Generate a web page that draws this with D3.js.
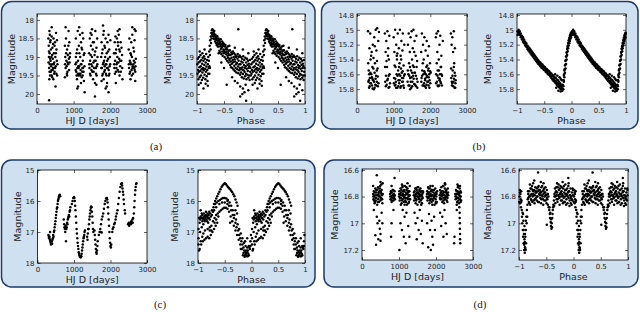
<!DOCTYPE html>
<html>
<head>
<meta charset="utf-8">
<script src="https://cdn.jsdelivr.net/npm/d3@7"></script>
<style>
  body { margin: 0; background: #fff; }
  svg { display: block; font-family: "DejaVu Sans", sans-serif; }
</style>
</head>
<body>
<svg id="chart" width="640" height="312"></svg>
<script>
// tick labels
const hjdTicks = [0, 1000, 2000, 3000];
const phaseTicks = [-1, -0.5, 0, 0.5, 1];
const magTicksA = [18, 18.5, 19, 19.5, 20];
const magTicksB = [14.8, 15, 15.2, 15.4, 15.6, 15.8];
const magTicksC = [15, 16, 17, 18];
const magTicksD = [16.6, 16.8, 17, 17.2];
const magRangeA = [17.84, 20.27];
const magRangeB = [14.787, 16.0];
const magRangeC = [15, 18];
const magRangeD = [16.593, 17.275];
const panelLabels = ["(a)", "(b)", "(c)", "(d)"];

// (a) light curve: [HJD, magnitude]
const aHjd = [
  [310,18.5],[320,18.7],[325,19.0],[330,19.3],[335,19.6],[340,18.3],[345,18.9],[350,19.2],[355,19.5],[360,18.6],
  [370,19.1],[375,19.4],[380,18.8],[390,19.0],[395,19.35],[400,18.45],[410,19.2],[415,19.55],[420,18.75],[430,19.05],
  [440,19.3],[450,18.5],[460,18.9],[470,19.15],[480,19.4],[490,18.6],[500,19.0],[510,19.25],[520,18.35],[530,18.8],
  [540,19.1],[550,19.5],[505,19.8],[330,20.17],[400,18.2],[350,18.4],[445,19.6],
  [315,19.15],[328,18.85],[342,19.4],[358,19.05],[368,18.55],[385,19.25],[398,19.5],[412,18.95],[428,19.35],[438,18.65],
  [455,19.2],[468,19.45],[478,18.7],[495,19.3],[515,18.9],[528,19.45],[545,18.55],[558,19.2],
  [760,18.7],[770,19.0],[780,19.3],[790,18.5],[800,19.1],[810,19.25],[820,18.8],[830,19.4],[840,18.95],[850,19.2],
  [860,18.3],[870,19.05],[880,18.6],[890,19.15],[780,18.2],[900,18.9],[760,19.55],[820,19.5],
  [765,19.2],[795,18.9],[815,19.45],[835,19.15],[855,18.7],[875,19.35],[895,19.0],
  [1050,19.2],[1060,18.5],[1070,19.4],[1080,18.9],[1090,19.6],[1100,19.3],[1110,18.3],[1120,19.1],[1130,19.5],[1140,18.7],
  [1150,19.25],[1160,19.45],[1170,18.4],[1180,19.0],[1190,19.35],[1200,18.6],[1210,19.2],[1220,19.55],[1230,18.8],[1240,19.3],
  [1250,19.1],[1260,18.5],[1270,19.4],[1280,19.65],[1290,18.9],[1150,18.2],[1100,19.85],[1120,19.8],[1300,19.95],[1200,19.7],
  [1240,18.35],[1060,19.0],[1080,19.5],
  [1055,19.35],[1075,19.15],[1095,18.8],[1115,19.45],[1135,19.3],[1155,18.9],[1175,19.5],[1195,19.2],[1215,18.75],[1235,19.4],
  [1255,19.3],[1275,18.95],[1295,19.25],[1125,19.25],[1185,19.45],[1245,19.5],
  [1420,18.9],[1430,19.3],[1440,18.5],[1450,19.1],[1460,19.5],[1470,18.7],[1480,19.2],[1490,18.4],[1500,19.0],[1510,19.4],
  [1520,18.8],[1530,19.6],[1540,19.15],[1550,18.6],[1560,19.3],[1570,18.95],[1580,19.7],[1590,18.3],[1600,19.1],[1610,19.45],
  [1620,18.75],[1630,19.25],[1640,18.5],[1650,19.0],[1580,20.07],[1500,18.25],[1620,19.75],[1460,18.35],
  [1425,19.2],[1445,19.45],[1465,18.95],[1485,19.35],[1505,19.25],[1525,18.6],[1545,19.4],[1565,19.1],[1585,18.85],[1605,19.3],
  [1625,19.5],[1645,19.2],
  [1750,19.0],[1760,18.6],[1770,19.3],[1780,19.5],[1790,18.8],[1800,19.2],[1810,18.4],[1820,19.6],[1830,19.1],[1840,18.7],
  [1850,19.35],[1860,19.0],[1870,18.5],[1880,19.45],[1890,19.2],[1900,18.9],[1910,19.7],[1920,18.6],[1930,19.3],[1940,19.05],
  [1950,18.4],[1960,19.5],[1970,18.8],[1980,19.25],[1990,19.0],[2000,18.55],[1800,18.15],[1870,19.85],[1950,19.95],[1900,19.8],
  [1820,18.3],[1760,19.65],
  [1755,19.3],[1775,18.9],[1795,19.45],[1815,19.15],[1835,19.4],[1855,18.75],[1875,19.2],[1895,19.5],[1915,19.1],[1935,18.85],
  [1955,19.35],[1975,19.45],[1995,19.2],[1845,19.25],[1905,19.3],
  [2100,18.9],[2110,19.3],[2120,18.6],[2130,19.1],[2140,18.45],[2150,19.4],[2160,18.8],[2170,19.2],[2180,18.5],[2190,19.0],
  [2200,19.35],[2210,18.7],[2220,19.15],[2230,18.4],[2240,19.05],[2250,19.5],[2260,18.85],[2270,19.25],[2280,18.6],[2300,19.1],
  [2320,18.95],[2200,18.3],[2150,19.7],[2250,18.25],[2330,19.6],
  [2105,19.2],[2125,19.45],[2145,18.9],[2165,19.3],[2185,19.15],[2205,18.6],[2225,19.4],[2245,18.8],[2265,19.1],[2285,19.4],
  [2305,18.75],[2325,19.3],
  [2500,18.8],[2510,19.3],[2520,18.5],[2530,19.1],[2540,19.4],[2550,18.9],[2560,19.2],[2570,18.6],[2580,19.35],[2590,19.0],
  [2600,18.4],[2610,19.25],[2620,19.45],[2630,18.75],[2640,19.1],[2650,19.3],[2660,18.55],[2670,19.15],[2680,19.4],[2690,18.3],
  [2600,18.2],[2660,18.25],[2550,19.6],[2680,19.65],
  [2505,19.2],[2525,19.45],[2545,19.15],[2565,18.95],[2585,19.5],[2605,19.3],[2625,19.2],[2645,18.85],[2665,19.35],[2685,19.25],
  [2695,19.05]
];

// (a) folded curve, one cycle: [phase, magnitude]
const aPhase = [
  [-0.995,19.2],[-0.99,19.45],[-0.985,19.05],[-0.98,19.35],[-0.975,19.6],[-0.97,19.15],[-0.965,19.4],[-0.96,19.0],[-0.955,19.28],[-0.95,19.55],
  [-0.945,19.12],[-0.94,19.38],[-0.935,18.95],[-0.93,19.25],[-0.925,19.5],[-0.92,19.08],[-0.915,19.33],[-0.91,19.62],[-0.905,19.18],[-0.90,19.42],
  [-0.895,19.02],[-0.89,19.3],[-0.885,19.56],[-0.88,19.1],[-0.875,19.36],[-0.87,18.98],[-0.865,19.22],[-0.86,19.48],[-0.855,19.05],[-0.85,19.32],
  [-0.845,19.6],[-0.84,19.15],[-0.835,19.4],[-0.83,18.92],[-0.825,19.26],[-0.82,19.52],[-0.815,19.08],[-0.81,19.35],[-0.805,19.65],[-0.80,19.2],
  [-0.795,19.45],[-0.79,19.0],[-0.785,19.3],
  [-0.97,19.75],[-0.93,19.7],[-0.88,19.85],[-0.84,19.72],[-0.8,19.78],[-0.95,18.85],[-0.9,18.9],[-0.86,18.8],
  [-0.78,19.1],[-0.775,18.85],[-0.77,19.25],[-0.765,18.7],[-0.76,18.95],[-0.755,18.55],[-0.75,18.8],[-0.745,18.45],[-0.74,18.62],[-0.735,18.35],
  [-0.73,18.5],[-0.725,18.28],[-0.72,18.4],[-0.715,18.25],[-0.77,19.45],[-0.76,19.3],
  [-0.71,18.36],[-0.705,18.27],[-0.70,18.44],[-0.695,18.33],[-0.69,18.5],[-0.685,18.38],[-0.68,18.3],[-0.675,18.52],[-0.67,18.43],[-0.665,18.58],
  [-0.66,18.4],[-0.655,18.48],[-0.65,18.62],[-0.645,18.45],[-0.64,18.55],[-0.635,18.68],[-0.63,18.5],[-0.625,18.44],[-0.62,18.62],[-0.615,18.72],
  [-0.61,18.56],[-0.605,18.65],[-0.60,18.5],
  [-0.595,18.72],[-0.59,18.55],[-0.585,18.83],[-0.58,18.64],[-0.575,18.6],[-0.57,18.88],[-0.565,18.7],[-0.56,18.52],[-0.555,18.78],[-0.55,18.92],
  [-0.545,18.66],[-0.54,18.74],[-0.535,18.58],[-0.53,18.85],[-0.525,18.97],[-0.52,18.7],[-0.515,18.62],[-0.51,18.8],[-0.505,18.9],[-0.50,18.66],
  [-0.495,18.84],[-0.49,19.0],[-0.485,18.72],[-0.48,18.88],[-0.475,18.68],[-0.47,18.79],[-0.465,19.05],[-0.46,18.93],[-0.455,18.75],[-0.45,18.86],
  [-0.445,19.1],[-0.44,18.8],[-0.435,18.97],[-0.43,18.72],[-0.425,19.02],[-0.42,18.9],[-0.415,19.15],[-0.41,18.83],[-0.405,18.95],[-0.40,19.08],
  [-0.395,19.05],[-0.39,18.82],[-0.385,19.22],[-0.38,18.95],[-0.375,19.12],[-0.37,19.28],[-0.365,18.88],[-0.36,19.02],[-0.355,19.18],[-0.35,18.92],
  [-0.345,19.3],[-0.34,19.08],[-0.335,18.85],[-0.33,19.14],[-0.325,19.34],[-0.32,19.0],[-0.315,18.9],[-0.31,19.24],[-0.305,19.06],[-0.30,19.38],
  [-0.295,19.12],[-0.29,18.94],[-0.285,19.3],[-0.28,19.0],[-0.275,19.2],[-0.27,19.42],[-0.265,18.98],[-0.26,19.16],[-0.255,19.33],[-0.25,19.05],
  [-0.245,18.92],[-0.24,19.26],[-0.235,19.44],[-0.23,19.1],[-0.225,19.0],[-0.22,19.36],[-0.215,19.2],[-0.21,18.96],[-0.205,19.3],[-0.20,19.48],
  [-0.195,19.2],[-0.19,19.0],[-0.185,19.42],[-0.18,19.12],[-0.175,19.33],[-0.17,19.55],[-0.165,19.05],[-0.16,19.28],[-0.155,19.15],[-0.15,19.46],
  [-0.145,18.98],[-0.14,19.36],[-0.135,19.58],[-0.13,19.22],[-0.125,19.08],[-0.12,19.4],[-0.115,19.3],[-0.11,19.52],[-0.105,19.02],[-0.10,19.25],
  [-0.095,19.45],[-0.09,19.15],[-0.085,19.6],[-0.08,19.32],[-0.075,19.05],[-0.07,19.48],[-0.065,19.22],[-0.06,19.38],[-0.055,19.1],[-0.05,19.56],
  [-0.045,19.3],[-0.04,19.18],[-0.035,19.5],[-0.03,19.25],[-0.025,19.62],[-0.02,19.08],[-0.015,19.4],[-0.01,19.3],[-0.005,19.5],
  [-0.5,19.3],[-0.45,19.75],[-0.35,19.55],[-0.3,19.65],[-0.25,19.7],[-0.2,19.8],[-0.15,19.85],[-0.1,19.75],[-0.05,19.9],[-0.235,18.25],
  [-0.09,20.18],[-0.2,20.07],[-0.16,20.0],[-0.12,19.95],[-0.55,19.15],[-0.6,18.9],[-0.4,18.7],[-0.3,18.75],[-0.15,18.8],[-0.05,18.9]
];

// (b) light curve: [HJD, magnitude]
const bHjd = [
  [300,15.02],[310,15.7],[320,15.55],[330,15.78],[340,15.25],[350,15.65],[360,15.05],[370,15.4],[380,15.72],[390,15.6],
  [400,15.3],[410,15.75],[420,15.5],[430,15.2],[440,15.68],[450,15.38],[460,15.8],[470,15.1],[480,15.58],[490,15.45],
  [500,15.74],[510,15.0],[520,15.62],[530,15.28],[540,15.7],[550,14.98],[560,15.52],[570,15.76],[580,15.15],[600,15.03],
  [330,15.6],[360,15.72],[420,15.66],[480,15.78],[540,15.55],
  [305,15.45],[325,15.68],[345,15.76],[365,15.58],[385,15.35],[405,15.64],[425,15.79],[445,15.52],[465,15.7],[485,15.22],
  [505,15.66],[525,15.75],[545,15.42],[565,15.63],[585,15.72],
  [760,15.05],[770,15.7],[780,15.3],[790,15.62],[800,15.15],[810,15.74],[820,15.5],[830,15.02],[840,15.66],[850,15.25],
  [860,15.78],[870,15.4],[880,15.08],[890,15.6],[900,15.72],
  [765,15.5],[785,15.76],[805,15.42],[825,15.68],[845,15.35],[865,15.62],[885,15.77],
  [1000,15.1],[1010,15.65],[1020,15.3],[1030,15.75],[1040,15.0],[1050,15.5],[1060,15.7],[1070,15.2],[1080,15.6],[1090,15.4],
  [1100,15.78],[1110,15.05],[1120,15.55],[1130,15.68],[1140,15.25],[1150,15.72],[1160,15.45],[1170,15.0],[1180,15.62],[1190,15.35],
  [1200,15.76],[1210,15.15],[1220,15.58],[1230,15.7],[1240,15.28],[1250,15.05],[1260,15.65],[1270,15.48],[1280,15.78],[1290,15.2],
  [1300,15.6],[1050,15.74],[1150,15.6],[1250,15.7],[1100,15.32],[1200,15.52],
  [1005,15.72],[1025,15.48],[1045,15.66],[1065,15.78],[1085,15.35],[1105,15.62],[1125,15.76],[1145,15.5],[1165,15.68],[1185,15.78],
  [1205,15.4],[1225,15.65],[1245,15.56],[1265,15.75],[1285,15.62],
  [1380,15.7],[1390,15.2],[1400,15.6],[1410,15.05],[1420,15.45],[1430,15.75],[1440,15.3],[1450,15.65],[1460,15.1],[1470,15.55],
  [1480,15.78],[1490,15.02],[1500,15.4],[1510,15.7],[1520,15.25],[1530,15.62],[1540,15.0],[1550,15.5],[1560,15.73],[1570,15.15],
  [1580,15.58],[1600,15.35],[1610,15.76],[1620,15.08],[1630,15.66],[1640,15.42],[1650,15.7],[1500,15.58],[1560,15.3],[1450,15.8],
  [1385,15.55],[1405,15.75],[1425,15.62],[1445,15.5],[1465,15.7],[1485,15.64],[1505,15.76],[1525,15.48],[1545,15.66],[1565,15.58],
  [1585,15.74],[1605,15.62],[1625,15.5],[1645,15.78],
  [1750,15.3],[1760,15.65],[1770,15.05],[1780,15.55],[1790,15.75],[1800,15.2],[1810,15.6],[1820,15.4],[1830,15.72],[1840,15.1],
  [1850,15.58],[1860,15.68],[1870,15.28],[1880,15.78],[1890,15.5],[1900,15.15],[1910,15.62],[1920,15.7],[1930,15.35],[1940,15.55],
  [1950,15.75],[1960,15.22],[1970,15.6],[1980,15.68],[1990,15.45],[2000,15.72],[2010,15.58],[1850,15.76],[1900,15.64],[1950,15.52],
  [1755,15.7],[1775,15.62],[1795,15.45],[1815,15.75],[1835,15.56],[1855,15.66],[1875,15.6],[1895,15.74],[1915,15.48],[1935,15.7],
  [1955,15.64],[1975,15.78],[1995,15.56],
  [2150,15.1],[2160,15.6],[2170,15.05],[2180,15.7],[2190,15.3],[2200,15.55],[2210,15.02],[2220,15.65],[2230,15.4],[2240,15.75],
  [2250,15.2],[2260,15.6],[2270,15.08],[2280,15.5],[2290,15.72],[2300,15.35],[2320,15.62],[2340,15.15],[2200,15.75],[2250,15.68],
  [2300,15.6],
  [2155,15.72],[2175,15.45],[2195,15.62],[2215,15.76],[2235,15.55],[2255,15.66],[2275,15.7],[2295,15.5],[2315,15.75],
  [2560,15.05],[2570,15.65],[2580,15.2],[2590,15.75],[2600,15.1],[2610,15.55],[2620,15.3],[2630,15.7],[2640,15.02],[2650,15.45],
  [2660,15.78],[2670,15.25],[2680,15.62],[2690,15.68],[2600,15.72],[2640,15.5],[2680,15.78],
  [2565,15.52],[2585,15.7],[2605,15.62],[2625,15.76],[2645,15.66],[2665,15.58],[2685,15.72]
];

// (b) folded curve, one cycle: [phase, magnitude]
const bPhase = [
  [-0.99,15.02],[-0.99,15.07],[-0.97,15.0],[-0.97,15.05],[-0.95,15.02],[-0.95,15.07],[-0.93,15.05],[-0.93,15.1],[-0.91,15.08],[-0.91,15.13],
  [-0.89,15.1],[-0.89,15.16],[-0.87,15.13],[-0.87,15.18],[-0.85,15.16],[-0.85,15.21],[-0.83,15.18],[-0.83,15.23],[-0.81,15.21],[-0.81,15.26],
  [-0.79,15.23],[-0.79,15.28],[-0.77,15.25],[-0.77,15.3],[-0.75,15.27],[-0.75,15.32],[-0.73,15.29],[-0.73,15.34],[-0.71,15.31],[-0.71,15.36],
  [-0.69,15.33],[-0.69,15.38],[-0.67,15.35],[-0.67,15.4],[-0.65,15.37],[-0.65,15.42],[-0.63,15.39],[-0.63,15.44],[-0.61,15.41],[-0.61,15.46],
  [-0.59,15.43],[-0.59,15.47],[-0.57,15.44],[-0.57,15.49],[-0.55,15.46],[-0.55,15.51],[-0.53,15.47],[-0.53,15.52],[-0.51,15.49],[-0.51,15.54],
  [-0.49,15.5],[-0.49,15.55],[-0.47,15.52],[-0.47,15.57],[-0.45,15.53],[-0.45,15.58],[-0.43,15.55],[-0.43,15.6],[-0.41,15.56],[-0.41,15.61],
  [-0.39,15.58],[-0.39,15.63],[-0.37,15.59],[-0.37,15.65],[-0.35,15.61],[-0.35,15.67],[-0.33,15.62],[-0.33,15.69],[-0.31,15.64],[-0.31,15.7],
  [-0.29,15.65],[-0.29,15.72],[-0.27,15.67],[-0.27,15.74],[-0.25,15.68],[-0.25,15.76],[-0.23,15.7],[-0.23,15.77],[-0.21,15.72],[-0.21,15.79],
  [-0.19,15.74],[-0.19,15.8],[-0.17,15.76],[-0.17,15.82],
  [-0.98,15.04],[-0.96,15.03],[-0.94,15.07],[-0.92,15.09],[-0.90,15.12],[-0.88,15.15],[-0.86,15.16],[-0.84,15.2],[-0.82,15.22],[-0.80,15.24],
  [-0.78,15.27],[-0.76,15.28],[-0.74,15.31],[-0.72,15.32],[-0.70,15.35],[-0.68,15.36],[-0.66,15.39],[-0.64,15.4],[-0.62,15.43],[-0.60,15.44],
  [-0.58,15.46],[-0.56,15.47],[-0.54,15.5],[-0.52,15.5],[-0.50,15.53],[-0.48,15.53],[-0.46,15.56],[-0.44,15.56],[-0.42,15.59],[-0.40,15.6],
  [-0.38,15.62],[-0.36,15.63],[-0.34,15.66],[-0.32,15.66],[-0.30,15.69],[-0.28,15.7],[-0.26,15.72],[-0.24,15.73],[-0.22,15.75],[-0.20,15.76],
  [-0.18,15.78],
  [-0.3,15.6],[-0.26,15.62],[-0.22,15.64],[-0.2,15.66],[-0.18,15.68],[-0.24,15.82],[-0.2,15.83],[-0.28,15.78],[-0.15,15.8],
  [-0.16,15.74],[-0.16,15.8],[-0.15,15.68],[-0.15,15.76],[-0.14,15.62],[-0.14,15.7],[-0.13,15.55],[-0.13,15.64],[-0.12,15.48],[-0.12,15.58],
  [-0.11,15.42],[-0.11,15.52],[-0.10,15.36],[-0.10,15.46],[-0.09,15.31],[-0.09,15.4],[-0.08,15.26],[-0.08,15.34],[-0.07,15.22],[-0.07,15.29],
  [-0.06,15.18],[-0.06,15.25],[-0.05,15.14],[-0.05,15.21],[-0.04,15.11],[-0.04,15.18],[-0.03,15.08],[-0.03,15.15],[-0.02,15.06],[-0.02,15.12],
  [-0.01,15.04],[-0.01,15.1],
  [-0.155,15.75],[-0.145,15.68],[-0.135,15.6],[-0.125,15.53],[-0.115,15.47],[-0.105,15.41],[-0.095,15.36],[-0.085,15.3],[-0.075,15.25],[-0.065,15.21],
  [-0.055,15.17],[-0.045,15.14],[-0.035,15.11],[-0.025,15.09],[-0.015,15.07],[-0.005,15.05]
];

// (c) light curve: [HJD, magnitude]
const cHjd = [
  [300,17.1],[310,17.15],[320,17.2],[330,17.15],[340,17.25],[345,17.0],[350,17.3],[360,17.35],[370,17.4],[380,17.35],
  [390,17.3],[400,17.38],[410,17.25],[420,17.2],[430,17.1],[440,17.15],[450,17.0],[460,16.95],[470,16.85],[480,16.75],
  [490,16.65],[500,16.55],[510,16.45],[520,16.35],[530,16.25],[540,16.2],[550,16.1],[560,16.0],[570,15.95],[580,15.9],
  [590,15.85],[600,15.82],[610,15.8],[620,15.85],
  [720,16.6],[730,16.75],[740,16.85],[750,16.9],[760,17.0],[770,16.8],[780,17.3],[790,16.9],[800,16.85],[810,16.7],
  [820,16.75],[830,16.6],[840,16.55],[850,16.5],[860,16.45],[870,16.5],[880,16.35],[890,16.3],[900,16.2],
  [940,16.1],[960,16.0],[980,15.9],[1000,15.87],[1010,15.9],[1020,16.0],[1030,16.15],[1040,16.3],[1050,16.5],[1060,16.7],
  [1070,16.9],[1080,17.05],[1090,17.2],[1100,17.35],[1110,17.45],[1120,17.55],[1130,17.65],[1140,17.7],[1150,17.75],[1160,17.8],
  [1170,17.8],[1180,17.82],[1190,17.8],[1200,17.78],[1210,17.7],[1220,17.6],[1230,17.5],[1240,17.4],[1250,17.3],[1260,17.2],
  [1270,17.15],[1280,17.1],[1290,17.0],[1300,16.95],[1360,17.15],[1370,17.25],[1380,17.05],[1390,16.9],
  [1400,16.9],[1410,16.75],[1420,16.6],[1430,16.5],[1440,16.4],[1450,16.3],[1460,16.22],[1470,16.18],[1480,16.2],[1490,16.35],
  [1500,16.5],[1510,16.7],[1520,16.9],[1530,17.0],
  [1560,16.95],[1570,17.1],[1580,17.25],[1590,17.4],[1600,17.55],[1610,17.65],[1620,17.7],[1630,17.6],[1640,17.45],[1650,17.3],
  [1680,17.1],[1700,17.0],[1720,16.9],[1740,16.75],[1760,16.6],[1780,16.5],[1800,16.4],[1820,16.25],[1840,16.1],[1860,16.0],
  [1880,15.92],[1900,15.9],[1910,15.95],[1920,16.05],[1930,16.2],[1940,16.4],[1950,16.6],[1960,16.8],[1970,17.0],[1980,17.2],
  [1990,17.35],[2000,17.45],[2010,17.5],[2020,17.4],[1730,17.0],[1760,17.02],
  [2050,17.0],[2060,16.9],[2080,16.85],[2100,16.75],[2120,16.7],[2140,16.6],[2150,16.5],[2170,16.4],[2190,16.3],[2210,16.1],
  [2230,15.9],[2250,15.7],[2270,15.55],[2290,15.45],[2310,15.43],[2320,15.5],[2330,15.6],[2340,15.7],[2350,15.8],[2360,15.95],
  [2370,16.1],[2390,16.3],[2400,16.4],
  [2480,16.75],[2500,16.7],[2510,16.8],[2520,16.75],[2540,16.7],[2560,16.75],[2570,16.65],[2580,16.7],[2600,16.6],[2610,16.7],
  [2620,16.55],[2640,16.4],[2650,16.2],[2660,16.0],[2670,15.8],[2680,15.65],[2690,15.55],[2700,15.45],[2710,15.43]
];

// (c) folded curve, one cycle: [phase, magnitude]
const cPhase = [
  [-0.70,16.1],[-0.68,16.0],[-0.66,15.92],[-0.64,15.85],[-0.62,15.77],[-0.60,15.7],[-0.58,15.62],[-0.56,15.55],[-0.54,15.5],[-0.52,15.46],
  [-0.50,15.43],[-0.48,15.45],[-0.46,15.5],[-0.44,15.55],[-0.42,15.58],[-0.40,15.62],[-0.38,15.67],[-0.36,15.72],[-0.34,15.78],[-0.32,15.85],
  [-0.30,15.95],[-0.28,16.05],[-0.26,16.15],
  [-0.98,16.55],[-0.95,16.5],[-0.92,16.45],[-0.89,16.4],[-0.86,16.45],[-0.83,16.5],[-0.80,16.45],[-0.77,16.4],[-0.74,16.3],[-0.71,16.2],
  [-0.68,16.1],[-0.65,16.05],[-0.62,16.0],[-0.59,15.97],[-0.56,15.93],[-0.53,15.9],[-0.50,15.9],[-0.47,15.92],[-0.44,15.97],[-0.41,16.05],
  [-0.38,16.15],[-0.35,16.3],[-0.32,16.45],[-0.29,16.6],[-0.26,16.75],[-0.23,16.9],[-0.20,17.05],[-0.17,17.2],[-0.14,17.35],[-0.11,17.45],
  [-0.08,17.5],[-0.05,17.45],[-0.02,17.3],
  [-0.99,17.2],[-0.96,17.0],[-0.93,16.85],[-0.90,16.75],[-0.87,16.65],[-0.84,16.6],[-0.81,16.7],[-0.78,16.85],[-0.75,16.8],[-0.72,16.65],
  [-0.69,16.55],[-0.66,16.45],[-0.63,16.4],[-0.60,16.35],[-0.57,16.3],[-0.54,16.25],[-0.51,16.22],[-0.48,16.22],[-0.45,16.25],[-0.42,16.35],
  [-0.39,16.5],[-0.36,16.65],[-0.33,16.8],[-0.30,16.95],[-0.27,17.1],[-0.24,17.25],[-0.21,17.4],[-0.18,17.55],[-0.15,17.68],[-0.12,17.75],
  [-0.09,17.78],[-0.06,17.7],[-0.03,17.55],
  [-0.97,17.55],[-0.94,17.4],[-0.91,17.3],[-0.88,17.25],[-0.85,17.2],[-0.82,17.15],[-0.79,17.2],[-0.76,17.1],[-0.73,17.0],[-0.70,16.9],
  [-0.67,16.8],[-0.64,16.7],
  [-0.95,16.3],[-0.9,16.6],[-0.85,16.35],[-0.8,16.55],[-0.92,16.65],[-0.87,16.5],[-0.82,16.4],[-0.78,16.6],[-0.2,17.55],[-0.15,17.5],
  [-0.1,17.6],[-0.05,17.75],[-0.12,17.3],[-0.08,17.2],[-0.3,16.3],[-0.27,16.4],[-0.4,16.7],[-0.45,16.1],
  [-0.99,16.9],[-0.97,16.7],[-0.96,16.6],[-0.94,16.55],[-0.93,16.4],[-0.91,16.55],[-0.89,16.5],[-0.88,16.6],[-0.86,16.55],[-0.84,16.45],
  [-0.83,16.65],[-0.81,16.55],[-0.79,16.35],[-0.76,16.5],[-0.74,16.45],[-0.72,16.35],[-0.70,16.3],[-0.66,16.2],[-0.6,16.1],[-0.55,16.05],
  [-0.5,16.05],[-0.45,16.0],[-0.42,16.15],[-0.38,16.3],[-0.35,16.45],[-0.33,16.55],[-0.3,16.7],[-0.28,16.85],[-0.25,16.95],[-0.23,17.1],
  [-0.21,17.2],[-0.19,17.3],[-0.17,17.4],[-0.14,17.6],[-0.12,17.65],[-0.1,17.7],[-0.08,17.65],[-0.07,17.6],[-0.04,17.5],[-0.02,17.45],
  [-0.01,17.1],[-0.99,17.4],[-0.98,17.6],[-0.95,17.3],[-0.92,17.15],[-0.9,17.05],[-0.87,16.95],[-0.82,16.9],[-0.78,16.95],[-0.75,16.95],
  [-0.69,16.7],[-0.66,16.6],[-0.62,16.5],[-0.16,17.75],[-0.13,17.8],[-0.11,17.75],[-0.07,17.78]
];

// (d) light curve: [HJD, magnitude]
const dHjd = [
  [300,16.78],[310,16.82],[320,16.76],[330,16.8],[340,16.85],[350,16.79],[360,16.74],[370,16.83],[380,16.77],[390,16.81],
  [400,16.75],[410,16.86],[420,16.79],[430,16.73],[440,16.82],[450,16.78],[460,16.84],[470,16.76],[480,16.8],[490,16.72],
  [500,16.83],[510,16.77],[520,16.81],[530,16.75],[540,16.79],[550,16.85],[560,16.78],[450,16.74],[350,16.84],[500,16.76],
  [305,16.8],[325,16.83],[345,16.77],[365,16.81],[385,16.75],[405,16.79],[425,16.84],[445,16.77],[465,16.8],[485,16.74],
  [505,16.81],[525,16.78],[545,16.82],
  [400,16.64],[500,16.69],[520,16.71],[560,16.7],[300,16.72],
  [320,16.9],[360,17.09],[380,17.16],[400,16.95],[420,17.0],[440,17.12],[470,16.98],[480,17.04],[500,17.08],[530,16.92],
  [550,17.0],[500,17.13],
  [760,16.78],[770,16.82],[780,16.76],[790,16.8],[800,16.84],[810,16.77],[820,16.81],[830,16.75],[840,16.79],[850,16.83],
  [860,16.78],[870,16.8],[880,16.76],[890,16.82],[880,16.66],[800,16.72],[785,17.1],[800,17.0],[850,16.9],
  [765,16.8],[785,16.77],[805,16.83],[825,16.79],[845,16.75],[865,16.81],[885,16.79],
  [1000,16.8],[1010,16.76],[1020,16.83],[1030,16.78],[1040,16.74],[1050,16.81],[1060,16.77],[1070,16.85],[1080,16.79],[1090,16.73],
  [1100,16.82],[1110,16.76],[1120,16.8],[1130,16.84],[1140,16.75],[1150,16.79],[1160,16.72],[1170,16.83],[1180,16.77],[1190,16.81],
  [1200,16.75],[1210,16.86],[1220,16.78],[1230,16.74],[1240,16.82],[1250,16.77],[1260,16.8],[1270,16.84],[1280,16.76],[1290,16.79],
  [1300,16.82],[1150,16.86],[1200,16.73],[1250,16.85],[1100,16.72],[1050,16.86],[1080,16.71],[1230,16.7],[1290,16.72],
  [1005,16.78],[1025,16.81],[1045,16.79],[1065,16.75],[1085,16.83],[1105,16.78],[1125,16.76],[1145,16.81],[1165,16.79],[1185,16.84],
  [1205,16.78],[1225,16.81],[1245,16.76],[1265,16.79],[1285,16.82],
  [1010,17.2],[1040,17.0],[1080,17.05],[1100,16.9],[1130,17.1],[1150,16.95],[1180,17.15],[1200,16.92],[1250,17.02],[1280,17.1],
  [1400,16.79],[1410,16.83],[1420,16.76],[1430,16.8],[1440,16.74],[1450,16.85],[1460,16.78],[1470,16.82],[1480,16.75],[1490,16.8],
  [1500,16.86],[1510,16.77],[1520,16.73],[1530,16.81],[1540,16.78],[1550,16.84],[1560,16.76],[1570,16.8],[1580,16.74],[1590,16.83],
  [1600,16.79],[1610,16.76],[1620,16.85],[1630,16.78],[1640,16.81],[1650,16.77],[1500,16.73],[1550,16.75],[1600,16.86],[1450,16.74],
  [1405,16.77],[1425,16.81],[1445,16.79],[1465,16.83],[1485,16.77],[1505,16.8],[1525,16.78],[1545,16.82],[1565,16.79],[1585,16.77],
  [1605,16.82],[1625,16.8],[1645,16.76],
  [1420,16.92],[1450,17.0],[1480,17.12],[1500,16.96],[1530,17.05],[1560,16.9],[1590,17.08],[1620,16.98],[1640,17.15],
  [1750,16.8],[1760,16.76],[1770,16.83],[1780,16.78],[1790,16.73],[1800,16.81],[1810,16.77],[1820,16.85],[1830,16.79],[1840,16.74],
  [1850,16.82],[1860,16.76],[1870,16.8],[1880,16.84],[1890,16.75],[1900,16.79],[1910,16.72],[1920,16.83],[1930,16.77],[1940,16.81],
  [1950,16.75],[1960,16.86],[1970,16.78],[1980,16.74],[1990,16.82],[2000,16.77],[2010,16.8],[2020,16.84],[2030,16.76],[1850,16.72],
  [1900,16.86],[1950,16.8],[2000,16.85],[1800,16.74],
  [1755,16.78],[1775,16.81],[1795,16.77],[1815,16.8],[1835,16.83],[1855,16.78],[1875,16.76],[1895,16.82],[1915,16.79],[1935,16.75],
  [1955,16.81],[1975,16.79],[1995,16.84],[2015,16.78],
  [1760,17.0],[1790,17.18],[1810,16.93],[1840,17.05],[1860,17.2],[1880,16.98],[1900,17.1],[1920,17.16],[1950,16.95],[1970,17.05],
  [2100,16.79],[2110,16.75],[2120,16.82],[2130,16.77],[2140,16.73],[2150,16.8],[2160,16.76],[2170,16.84],[2180,16.78],[2190,16.72],
  [2200,16.81],[2210,16.77],[2220,16.85],[2230,16.79],[2240,16.74],[2250,16.82],[2260,16.76],[2270,16.8],[2280,16.75],[2290,16.83],
  [2300,16.78],[2310,16.81],[2320,16.74],[2330,16.79],[2250,16.71],[2200,16.72],[2240,16.7],
  [2105,16.81],[2125,16.78],[2145,16.82],[2165,16.79],[2185,16.76],[2205,16.83],[2225,16.79],[2245,16.81],[2265,16.77],[2285,16.8],
  [2305,16.84],[2325,16.77],
  [2110,16.92],[2140,17.02],[2170,16.95],[2200,17.1],[2230,16.9],[2260,17.0],[2290,17.08],
  [2520,16.78],[2530,16.82],[2540,16.75],[2550,16.8],[2560,16.76],[2570,16.84],[2580,16.78],[2590,16.73],[2600,16.81],[2610,16.77],
  [2620,16.85],[2630,16.79],[2640,16.74],[2650,16.82],[2660,16.76],[2670,16.8],[2680,16.83],[2600,16.72],[2560,16.86],[2650,16.72],
  [2580,16.71],
  [2525,16.8],[2545,16.78],[2565,16.81],[2585,16.76],[2605,16.83],[2625,16.78],[2645,16.8],[2665,16.84],[2675,16.77],
  [2640,16.92],[2640,16.96],[2645,17.0],[2645,17.04],[2650,17.08],[2650,17.12],[2655,17.15],[2630,16.88],[2490,17.15],[2500,17.1],
  [2560,16.9]
];

// (d) folded curve, one cycle: [phase, magnitude]
const dPhase = [
  [-0.99,16.8],[-0.985,16.75],[-0.98,16.85],[-0.975,16.78],[-0.97,16.82],[-0.965,16.88],[-0.96,16.76],[-0.955,16.83],[-0.95,16.9],
  [-0.945,16.95],[-0.94,17.0],[-0.935,16.92],[-0.93,17.05],[-0.925,17.1],[-0.92,16.98],[-0.915,17.15],[-0.91,17.08],[-0.905,17.2],[-0.9,17.12],
  [-0.895,17.22],[-0.89,17.18],[-0.885,17.1],[-0.88,17.2],[-0.875,17.05],[-0.87,17.15],[-0.865,16.95],[-0.86,17.0],[-0.855,16.9],[-0.85,16.95],
  [-0.905,17.16],[-0.895,17.14],[-0.885,17.19],[-0.915,17.05],[-0.9,17.02],[-0.89,17.08],[-0.875,16.98],[-0.925,16.93],
  [-0.845,16.86],[-0.84,16.82],[-0.83,16.78],[-0.82,16.84],[-0.81,16.76],[-0.8,16.8],[-0.79,16.74],[-0.78,16.82],[-0.77,16.78],[-0.76,16.72],
  [-0.75,16.8],[-0.74,16.76],[-0.73,16.83],[-0.72,16.75],[-0.71,16.79],[-0.7,16.73],[-0.69,16.81],[-0.68,16.77],[-0.67,16.74],[-0.66,16.8],
  [-0.65,16.76],[-0.64,16.72],[-0.63,16.78],[-0.62,16.75],[-0.61,16.81],[-0.6,16.77],[-0.59,16.73],[-0.58,16.79],[-0.57,16.76],[-0.56,16.82],
  [-0.55,16.78],[-0.54,16.74],[-0.53,16.8],[-0.52,16.77],[-0.51,16.83],[-0.5,16.79],[-0.49,16.75],[-0.48,16.82],[-0.47,16.86],[-0.46,16.8],
  [-0.455,16.88],
  [-0.835,16.76],[-0.815,16.8],[-0.795,16.86],[-0.775,16.74],[-0.755,16.84],[-0.735,16.78],[-0.715,16.85],[-0.695,16.77],[-0.675,16.83],[-0.655,16.73],
  [-0.635,16.84],[-0.615,16.79],[-0.595,16.85],[-0.575,16.72],[-0.555,16.86],[-0.535,16.83],[-0.515,16.73],[-0.495,16.85],[-0.475,16.78],
  [-0.74,16.7],[-0.65,16.62],[-0.72,16.68],[-0.6,16.69],[-0.55,16.7],[-0.8,16.71],
  [-0.445,16.9],[-0.44,16.88],[-0.435,16.93],[-0.43,16.96],[-0.425,16.92],[-0.42,16.99],[-0.415,17.02],[-0.41,16.97],[-0.405,17.04],[-0.4,17.0],
  [-0.395,17.03],[-0.39,16.96],[-0.385,16.93],[-0.38,16.9],[-0.375,16.88],[-0.37,16.86],[-0.49,17.01],
  [-0.36,16.83],[-0.35,16.78],[-0.34,16.74],[-0.33,16.8],[-0.32,16.76],[-0.31,16.82],[-0.3,16.77],[-0.29,16.73],[-0.28,16.79],[-0.27,16.75],
  [-0.26,16.81],[-0.25,16.78],[-0.24,16.72],[-0.23,16.8],[-0.22,16.76],[-0.21,16.83],[-0.2,16.79],[-0.19,16.74],[-0.18,16.81],[-0.17,16.77],
  [-0.16,16.84],[-0.15,16.78],[-0.14,16.75],[-0.13,16.82],[-0.12,16.79],[-0.11,16.85],[-0.1,16.77],[-0.09,16.81],[-0.08,16.76],[-0.07,16.83],
  [-0.06,16.79],[-0.05,16.85],[-0.04,16.8],[-0.03,16.77],[-0.02,16.83],[-0.01,16.79],
  [-0.355,16.87],[-0.335,16.85],[-0.315,16.73],[-0.295,16.84],[-0.275,16.71],[-0.255,16.86],[-0.235,16.77],[-0.215,16.73],[-0.195,16.85],[-0.175,16.72],
  [-0.155,16.8],[-0.135,16.86],[-0.115,16.74],[-0.095,16.72],[-0.075,16.87],[-0.055,16.74],[-0.035,16.86],[-0.015,16.74],
  [-0.095,16.66],[-0.09,16.7],[-0.2,16.69],[-0.3,16.7],[-0.15,16.71],
  [-0.995,16.84],[-0.98,16.77],[-0.96,16.84],[-0.83,16.81],[-0.81,16.85],[-0.79,16.79],[-0.77,16.83],[-0.75,16.75],[-0.73,16.79],[-0.71,16.82],
  [-0.69,16.76],[-0.67,16.8],[-0.65,16.84],[-0.63,16.75],[-0.61,16.77],[-0.59,16.82],[-0.57,16.8],[-0.55,16.75],[-0.53,16.77],[-0.51,16.79],
  [-0.49,16.81],[-0.47,16.78],[-0.35,16.8],[-0.33,16.77],[-0.31,16.79],[-0.29,16.82],[-0.27,16.8],[-0.25,16.74],[-0.23,16.83],[-0.21,16.78],
  [-0.19,16.8],[-0.17,16.84],[-0.15,16.75],[-0.13,16.78],[-0.11,16.8],[-0.09,16.76],[-0.07,16.79],[-0.05,16.81],[-0.03,16.82],[-0.01,16.75]
];

const svg = d3.select("#chart");

// blue rounded boxes behind each pair of plots
const boxes = [
  { x: 1.5, y: 1.5, w: 313.5, h: 127.5, lx: 156, ly: 150 },
  { x: 321.5, y: 1.5, w: 316.5, h: 127.5, lx: 479, ly: 150 },
  { x: 1.5, y: 160, w: 313.5, h: 127, lx: 160, ly: 308 },
  { x: 324, y: 160, w: 314, h: 127, lx: 480, ly: 308 }
];

boxes.forEach((b, i) => {
  svg.append("rect")
    .attr("x", b.x).attr("y", b.y)
    .attr("width", b.w).attr("height", b.h)
    .attr("rx", 10)
    .attr("fill", "#cfe0f1")
    .attr("stroke", "#1d3b66")
    .attr("stroke-width", 1.5);
  svg.append("text")
    .attr("x", b.lx).attr("y", b.ly)
    .attr("text-anchor", "middle")
    .style("font-family", "'Liberation Serif', serif")
    .style("font-size", "11px")
    .attr("fill", "#222")
    .text(panelLabels[i]);
});

const plots = [
  { frame: [37, 14, 110, 90], x: [0, 3000], xt: hjdTicks, y: magRangeA, yt: magTicksA, pts: aHjd, fold: false, xl: "HJ D [days]", ylx: 12 },
  { frame: [197, 14, 108, 90], x: [-1, 1], xt: phaseTicks, y: magRangeA, yt: magTicksA, pts: aPhase, fold: true, xl: "Phase", ylx: 168 },
  { frame: [357, 14, 110, 90], x: [0, 3000], xt: hjdTicks, y: magRangeB, yt: magTicksB, pts: bHjd, fold: false, xl: "HJ D [days]", ylx: 332 },
  { frame: [517, 14, 109, 90], x: [-1, 1], xt: phaseTicks, y: magRangeB, yt: magTicksB, pts: bPhase, fold: true, xl: "Phase", ylx: 488 },
  { frame: [37.5, 170, 109.5, 93], x: [0, 3000], xt: hjdTicks, y: magRangeC, yt: magTicksC, pts: cHjd, fold: false, xl: "HJ D [days]", ylx: 18 },
  { frame: [198, 170, 107, 93], x: [-1, 1], xt: phaseTicks, y: magRangeC, yt: magTicksC, pts: cPhase, fold: true, xl: "Phase", ylx: 175 },
  { frame: [362, 169, 111, 91], x: [0, 3000], xt: hjdTicks, y: magRangeD, yt: magTicksD, pts: dHjd, fold: false, xl: "HJ D [days]", ylx: 335 },
  { frame: [519, 169, 109, 91], x: [-1, 1], xt: phaseTicks, y: magRangeD, yt: magTicksD, pts: dPhase, fold: true, xl: "Phase", ylx: 488 }
];

const fmt = d => String(d).replace("-", "\u2212");

function styleAxis(sel) {
  sel.select(".domain").remove();
  sel.selectAll("line").attr("stroke", "#000").attr("stroke-width", 0.6);
  sel.selectAll("text").style("font-family", "'DejaVu Sans', sans-serif")
    .style("font-size", "7px").attr("fill", "#222");
}

plots.forEach(p => {
  const [fx, fy, fw, fh] = p.frame;
  const x = d3.scaleLinear().domain(p.x).range([fx, fx + fw]);
  const y = d3.scaleLinear().domain(p.y).range([fy, fy + fh]);
  const g = svg.append("g");

  g.append("rect")
    .attr("x", fx).attr("y", fy).attr("width", fw).attr("height", fh)
    .attr("fill", "#fff");

  // folded data is shown twice, one cycle apart
  const pts = p.fold ? p.pts.concat(p.pts.map(d => [d[0] + 1, d[1]])) : p.pts;
  g.append("g").selectAll("circle")
    .data(pts)
    .join("circle")
    .attr("cx", d => x(d[0]))
    .attr("cy", d => y(d[1]))
    .attr("r", 1.25)
    .attr("fill", "#000");

  g.append("g").attr("transform", `translate(0,${fy + fh})`)
    .call(d3.axisBottom(x).tickValues(p.xt).tickSize(-3).tickPadding(4).tickFormat(fmt))
    .call(styleAxis);
  g.append("g").attr("transform", `translate(0,${fy})`)
    .call(d3.axisTop(x).tickValues(p.xt).tickSize(-3).tickFormat(""))
    .call(styleAxis);
  g.append("g").attr("transform", `translate(${fx},0)`)
    .call(d3.axisLeft(y).tickValues(p.yt).tickSize(-3).tickPadding(3).tickFormat(fmt))
    .call(styleAxis);
  g.append("g").attr("transform", `translate(${fx + fw},0)`)
    .call(d3.axisRight(y).tickValues(p.yt).tickSize(-3).tickFormat(""))
    .call(styleAxis);

  g.append("rect")
    .attr("x", fx).attr("y", fy).attr("width", fw).attr("height", fh)
    .attr("fill", "none").attr("stroke", "#000").attr("stroke-width", 0.8);

  // axis titles
  g.append("text")
    .attr("x", fx + fw / 2).attr("y", fy + fh + 20)
    .attr("text-anchor", "middle")
    .style("font-size", "9.5px").attr("fill", "#222")
    .text(p.xl);
  g.append("text")
    .attr("transform", `translate(${p.ylx},${fy + fh / 2}) rotate(-90)`)
    .attr("text-anchor", "middle")
    .attr("dy", "0.35em")
    .style("font-size", "9.5px").attr("fill", "#222")
    .text("Magnitude");
});
</script>
</body>
</html>
